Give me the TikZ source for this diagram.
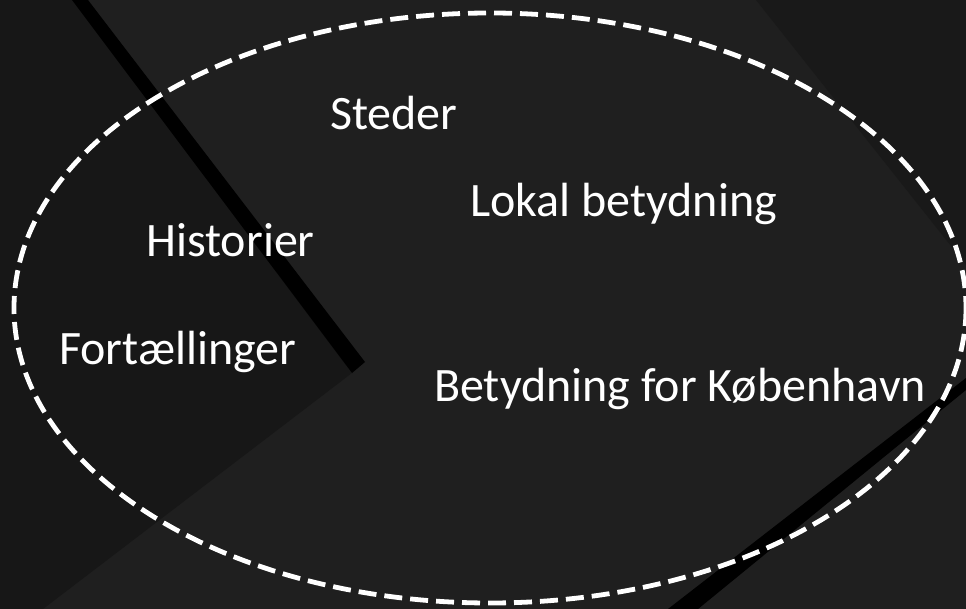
\documentclass[tikz,border=0pt]{standalone}
\usepackage{fontspec}
\setmainfont{Carlito}
\definecolor{bgbase}{HTML}{1F1F1F}
\definecolor{bgdark}{HTML}{171717}
\definecolor{bgtr}{HTML}{191919}
\tikzset{
  lbl/.style={anchor=base west, inner sep=0pt, text=white, font=\fontsize{48}{58}\selectfont},
  band/.style={fill=black, draw=none},
  ring/.style={draw=white, line width=4.8pt, dash pattern=on 18pt off 8pt}
}
\begin{document}
\begin{tikzpicture}[x=1pt,y=-1pt]
\useasboundingbox (0,0) rectangle (966,609);
% background
\fill[bgbase] (0,0) rectangle (966,609);
\fill[bgdark] (0,0) -- (74,0) -- (352,373) -- (43,609) -- (0,609) -- cycle;
\fill[bgtr] (756,0) -- (966,0) -- (966,265) -- cycle;
\fill[band] (72,0) -- (88,0) -- (365,362) -- (352,373) -- cycle;
\fill[band] (668,609) -- (698,609) -- (966,390) -- (966,378) -- cycle;
% ellipse
\draw[ring] (490,308) ellipse [x radius=476, y radius=295];
% labels
\node[lbl] (steder) at (330,130) {Steder};
\node[lbl] (lokal) at (470,217) {Lokal betydning};
\node[lbl] (hist) at (146,257) {Historier};
\node[lbl] (fort) at (59,364) {Fortællinger};
\node[lbl] (kbh) at (434,401) {Betydning for København};
\end{tikzpicture}
\end{document}
